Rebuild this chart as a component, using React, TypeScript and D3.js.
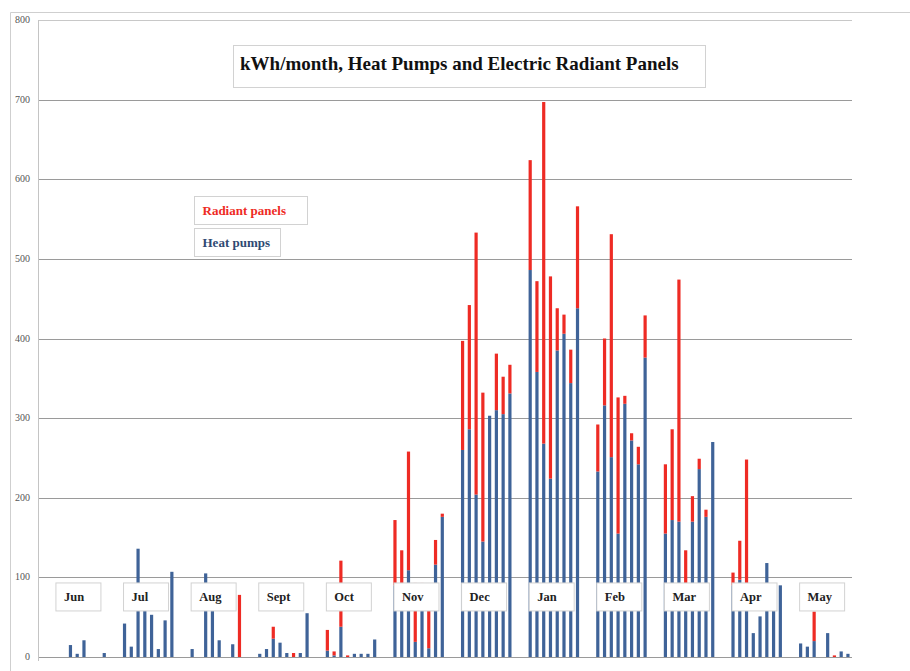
import { useEffect, useRef } from "react"
import * as d3 from "d3"

// one group of 8 bars per month, 10 slots per month (2 empty)
const months = ["Jun", "Jul", "Aug", "Sept", "Oct", "Nov", "Dec", "Jan", "Feb", "Mar", "Apr", "May"]

const heatPumps = [
  [0, 0, 15, 4, 21, 0, 0, 5],
  [42, 13, 136, 62, 53, 10, 46, 107],
  [10, 0, 105, 62, 21, 0, 16, 0],
  [4, 10, 23, 18, 5, 0, 5, 55],
  [8, 2, 38, 0, 4, 4, 4, 22],
  [90, 90, 109, 19, 90, 11, 116, 176],
  [260, 286, 204, 145, 303, 310, 305, 331],
  [486, 358, 268, 224, 385, 406, 344, 438],
  [233, 316, 251, 155, 318, 272, 242, 376],
  [155, 172, 170, 85, 170, 236, 176, 270],
  [90, 97, 90, 30, 51, 118, 80, 90],
  [17, 13, 20, 0, 30, 0, 7, 4],
]

const radiantPanels = [
  [0, 0, 0, 0, 0, 0, 0, 0],
  [0, 0, 0, 0, 0, 0, 0, 0],
  [0, 0, 0, 0, 0, 0, 0, 78],
  [0, 0, 15, 0, 0, 5, 0, 0],
  [26, 5, 83, 2, 0, 0, 0, 0],
  [82, 44, 149, 74, 3, 79, 31, 4],
  [137, 156, 329, 187, 0, 71, 47, 36],
  [138, 114, 429, 254, 53, 24, 42, 128],
  [59, 84, 280, 171, 10, 9, 22, 53],
  [87, 114, 304, 49, 32, 13, 9, 0],
  [16, 49, 158, 0, 0, 0, 0, 0],
  [0, 0, 37, 0, 0, 2, 0, 0],
]

const yTicks = [0, 100, 200, 300, 400, 500, 600, 700, 800]

const BLUE = "#3f6398"
const RED = "#ee2b24"

interface Row {
  slot: number
  heat: number
  radiant: number
}

const App = () => {
  const svgRef = useRef<SVGSVGElement | null>(null)

  useEffect(() => {
    if (!svgRef.current) return
    const svg = d3.select(svgRef.current)
    svg.selectAll("*").remove()

    const rows: Row[] = []
    months.forEach((_, m) => {
      heatPumps[m].forEach((v, i) => {
        rows.push({ slot: m * 10 + i, heat: v, radiant: radiantPanels[m][i] })
      })
    })

    const x = d3.scaleLinear().domain([-2.8, 117.6]).range([38, 852])
    const y = d3.scaleLinear().domain([0, 800]).range([657, 20])
    const barW = 3.2

    // outer frame
    svg
      .append("path")
      .attr("d", "M10.5,671 V12.5 H910")
      .attr("fill", "none")
      .attr("stroke", "#cfcfcf")

    // grid lines
    svg
      .append("g")
      .selectAll("line")
      .data(yTicks)
      .join("line")
      .attr("x1", 38)
      .attr("x2", 852)
      .attr("y1", (d) => Math.round(y(d)) + 0.5)
      .attr("y2", (d) => Math.round(y(d)) + 0.5)
      .attr("stroke", (d) => (d === 800 ? "#c8c8c8" : "#9a9a9a"))

    // left axis
    svg
      .append("line")
      .attr("x1", 38.5)
      .attr("x2", 38.5)
      .attr("y1", y(800))
      .attr("y2", y(0) + 4)
      .attr("stroke", "#c4c4c4")

    svg
      .append("g")
      .selectAll("text")
      .data(yTicks)
      .join("text")
      .attr("x", 30)
      .attr("y", (d) => y(d) + 3)
      .attr("text-anchor", "end")
      .attr("font-family", "Liberation Serif, serif")
      .attr("font-size", 10)
      .attr("fill", "#555")
      .text((d) => d)

    // stacked bars
    const series = d3.stack<Row>().keys(["heat", "radiant"])(rows)
    const colors = [BLUE, RED]
    series.forEach((s, k) => {
      svg
        .append("g")
        .attr("fill", colors[k])
        .selectAll("rect")
        .data(s.filter((d) => d[1] > d[0]))
        .join("rect")
        .attr("x", (d) => x(d.data.slot) - barW / 2)
        .attr("width", barW)
        .attr("y", (d) => y(d[1]))
        .attr("height", (d) => y(d[0]) - y(d[1]))
    })

    // month labels
    const boxStyle = (sel: d3.Selection<SVGRectElement, any, any, any>) =>
      sel.attr("fill", "white").attr("stroke", "#d2d2d2").attr("stroke-width", 1)

    const mg = svg
      .append("g")
      .selectAll("g")
      .data(months)
      .join("g")
      .attr("transform", (_, m) => `translate(${x(m * 10) - 1},${y(93)})`)
    mg.append("rect").attr("width", 45).attr("height", 28).call(boxStyle)
    mg.append("text")
      .attr("x", 8)
      .attr("y", 18)
      .attr("font-family", "Liberation Serif, serif")
      .attr("font-weight", "bold")
      .attr("font-size", 12.5)
      .attr("fill", "#222")
      .text((d) => d)

    // title
    svg.append("rect").attr("x", 233.5).attr("y", 45.5).attr("width", 472).attr("height", 42).call(boxStyle)
    svg
      .append("text")
      .attr("x", 240)
      .attr("y", 70)
      .attr("font-family", "Liberation Serif, serif")
      .attr("font-weight", "bold")
      .attr("font-size", 19)
      .attr("fill", "#111")
      .text("kWh/month, Heat Pumps and Electric Radiant Panels")

    // legend
    const legend = [
      { label: "Radiant panels", color: RED, w: 113 },
      { label: "Heat pumps", color: "#2f4a72", w: 86 },
    ]
    const lg = svg
      .append("g")
      .selectAll("g")
      .data(legend)
      .join("g")
      .attr("transform", (_, i) => `translate(194.5,${196.5 + i * 32})`)
    lg.append("rect").attr("width", (d) => d.w).attr("height", 28).call(boxStyle)
    lg.append("text")
      .attr("x", 8)
      .attr("y", 18)
      .attr("font-family", "Liberation Serif, serif")
      .attr("font-weight", "bold")
      .attr("font-size", 13)
      .attr("fill", (d) => d.color)
      .text((d) => d.label)
  }, [])

  return (
    <svg
      ref={svgRef}
      width={910}
      height={671}
      style={{ position: "absolute", left: 0, top: 0, background: "white" }}
    />
  )
}

export default App
